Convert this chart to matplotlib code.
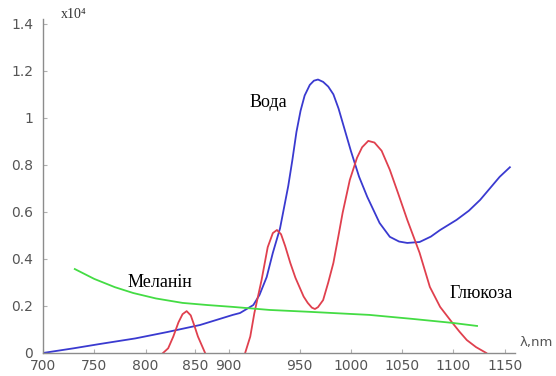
import matplotlib
matplotlib.use("Agg")
import matplotlib.pyplot as plt

# Вода, absorbance x10^4
water_nm = [700, 730, 755, 790, 821, 853, 885, 892, 905, 911, 918, 924, 931, 935, 939,
            943, 947, 951, 955, 960, 964, 968, 973, 978, 983, 988, 994, 1000, 1008,
            1016, 1028, 1038, 1047, 1055, 1067, 1078, 1087, 1103, 1115, 1126, 1145, 1155]
water_val = [0.0, 0.02, 0.038, 0.062, 0.089, 0.119, 0.162, 0.17, 0.204, 0.247, 0.323,
             0.426, 0.53, 0.62, 0.71, 0.82, 0.94, 1.03, 1.095, 1.14, 1.158, 1.163,
             1.153, 1.133, 1.1, 1.04, 0.95, 0.86, 0.75, 0.664, 0.553, 0.494, 0.474,
             0.468, 0.472, 0.495, 0.523, 0.566, 0.605, 0.651, 0.749, 0.79]

# Глюкоза
glucose_nm_a = [817, 822, 827, 832, 836, 840, 844, 848, 851, 855, 858]
glucose_val_a = [0.0, 0.02, 0.07, 0.13, 0.165, 0.178, 0.16, 0.11, 0.07, 0.03, 0.0]
glucose_nm_b = [897, 902, 906, 913, 919, 924, 928, 932, 936, 941, 946, 950, 954, 958,
                962, 965, 968, 973, 978, 983, 988, 992, 999, 1006, 1011, 1017, 1023,
                1030, 1038, 1046, 1055, 1067, 1077, 1087, 1099, 1106, 1113, 1122, 1132]
glucose_val_b = [0.0, 0.07, 0.17, 0.31, 0.45, 0.51, 0.523, 0.505, 0.455, 0.383, 0.32,
                 0.28, 0.24, 0.213, 0.193, 0.187, 0.195, 0.225, 0.3, 0.383, 0.5, 0.596,
                 0.736, 0.83, 0.875, 0.902, 0.895, 0.86, 0.779, 0.68, 0.566, 0.426,
                 0.281, 0.196, 0.128, 0.09, 0.055, 0.025, 0.0]

# Меланін
melanin_nm = [731, 750, 770, 788, 810, 836, 860, 885, 921, 960, 1000, 1018, 1060, 1099, 1123]
melanin_val = [0.357, 0.315, 0.28, 0.255, 0.232, 0.213, 0.204, 0.196, 0.183, 0.175, 0.166,
               0.162, 0.145, 0.128, 0.115]

xtick_pos = [700, 750, 800, 848, 881, 950, 1000, 1050, 1100, 1150]
xtick_labels = ["700", "750", "800", "850", "900", "950", "1000", "1050", "1100", "1150"]
ytick_pos = [0, 0.2, 0.4, 0.6, 0.8, 1.0, 1.2, 1.4]
ytick_labels = ["0", "0.2", "0.4", "0.6", "0.8", "1", "1.2", "1.4"]

axis_gray = "#8c8c8c"
label_gray = "#555555"

fig = plt.figure(figsize=(5.56, 3.76), dpi=100)
ax = fig.add_axes([0.0773, 0.0612, 0.849, 0.888])

ax.plot(water_nm, water_val, color="#3a3ad0", lw=1.3)
ax.plot(glucose_nm_a, glucose_val_a, color="#e0404e", lw=1.3)
ax.plot(glucose_nm_b, glucose_val_b, color="#e0404e", lw=1.3)
ax.plot(melanin_nm, melanin_val, color="#44dc44", lw=1.3)

ax.set_xlim(700, 1160)
ax.set_ylim(0, 1.42)
ax.set_xticks(xtick_pos)
ax.set_xticklabels(xtick_labels)
ax.set_yticks(ytick_pos)
ax.set_yticklabels(ytick_labels)

for side in ["top", "right"]:
    ax.spines[side].set_visible(False)
for side in ["left", "bottom"]:
    ax.spines[side].set_color(axis_gray)
    ax.spines[side].set_linewidth(1.0)
ax.tick_params(direction="in", length=3, width=0.8, color="#b0b0b0",
               labelsize=10, labelcolor=label_gray)
ax.tick_params(axis="y", pad=7)
ax.tick_params(axis="x", pad=4)

serif = "Liberation Serif"
ax.text(814, 0.30, "Меланін", family=serif, fontsize=13, ha="center", va="center")
ax.text(920, 1.064, "Вода", family=serif, fontsize=13, ha="center", va="center")
ax.text(1127, 0.255, "Глюкоза", family=serif, fontsize=13, ha="center", va="center")

fig.text(0.110, 0.962, "x10⁴", family=serif, fontsize=10, color="#333333",
         ha="left", va="center")
fig.text(0.935, 0.088, "λ,nm", fontsize=9.5, color=label_gray, ha="left", va="center")

fig.savefig("out.png", dpi=100)
